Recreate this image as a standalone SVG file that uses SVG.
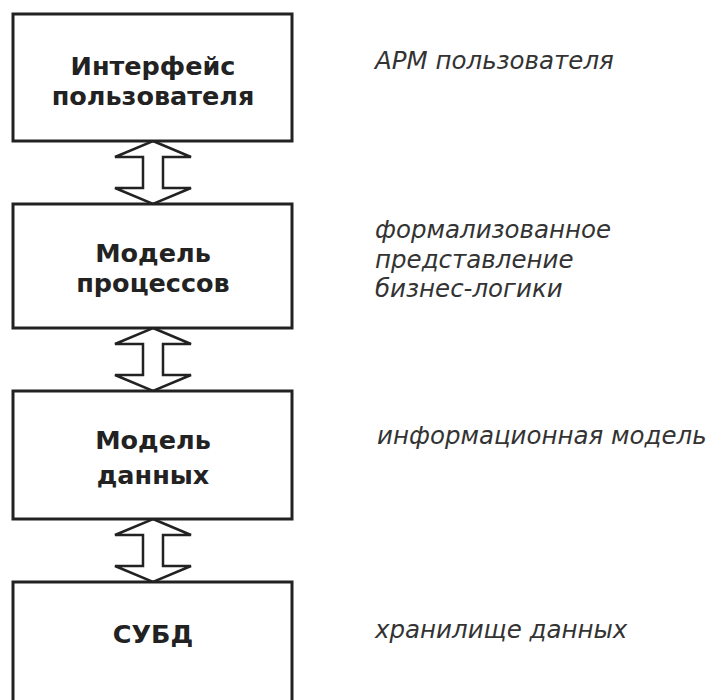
<svg xmlns="http://www.w3.org/2000/svg" xmlns:xlink="http://www.w3.org/1999/xlink" width="707" height="700" viewBox="0 0 707 700">
<style>
.box{fill:#fff;stroke:#222;stroke-width:3}
.arr{fill:#fff;stroke:#222;stroke-width:2.5;stroke-linejoin:miter}
.t{font-family:"DejaVu Sans","Verdana",sans-serif;font-weight:bold;font-size:25.5px;fill:#222;text-anchor:middle}
.d{font-family:"DejaVu Sans","Verdana",sans-serif;font-style:italic;font-size:24.5px;fill:#333}
</style>
<defs>
<path id="dbl" class="arr" d="M0,0 L38,16 L10,16 L10,47 L38,47 L0,63 L-38,47 L-10,47 L-10,16 L-38,16 Z"/>
</defs>
<rect width="707" height="700" fill="#fff"/>
<g id="connectors">
<use xlink:href="#dbl" x="153" y="141"/>
<use xlink:href="#dbl" x="153" y="328"/>
<use xlink:href="#dbl" x="153" y="519"/>
</g>
<g id="n1">
<rect class="box" x="13" y="14" width="279" height="127"/>
<text class="t" x="153" y="75">Интерфейс</text>
<text class="t" x="153" y="105">пользователя</text>
</g>
<g id="n2">
<rect class="box" x="13" y="204" width="279" height="124"/>
<text class="t" x="153" y="262">Модель</text>
<text class="t" x="153" y="292">процессов</text>
</g>
<g id="n3">
<rect class="box" x="13" y="391" width="279" height="128"/>
<text class="t" x="153" y="449">Модель</text>
<text class="t" x="153" y="484">данных</text>
</g>
<g id="n4">
<rect class="box" x="13" y="582" width="279" height="130"/>
<text class="t" x="153" y="643">СУБД</text>
</g>
<g id="labels">
<text class="d" x="375" y="69">АРМ пользователя</text>
<text class="d" x="375" y="238">формализованное</text>
<text class="d" x="375" y="268">представление</text>
<text class="d" x="375" y="297">бизнес-логики</text>
<text class="d" x="377" y="444">информационная модель</text>
<text class="d" x="375" y="638">хранилище данных</text>
</g>
</svg>
